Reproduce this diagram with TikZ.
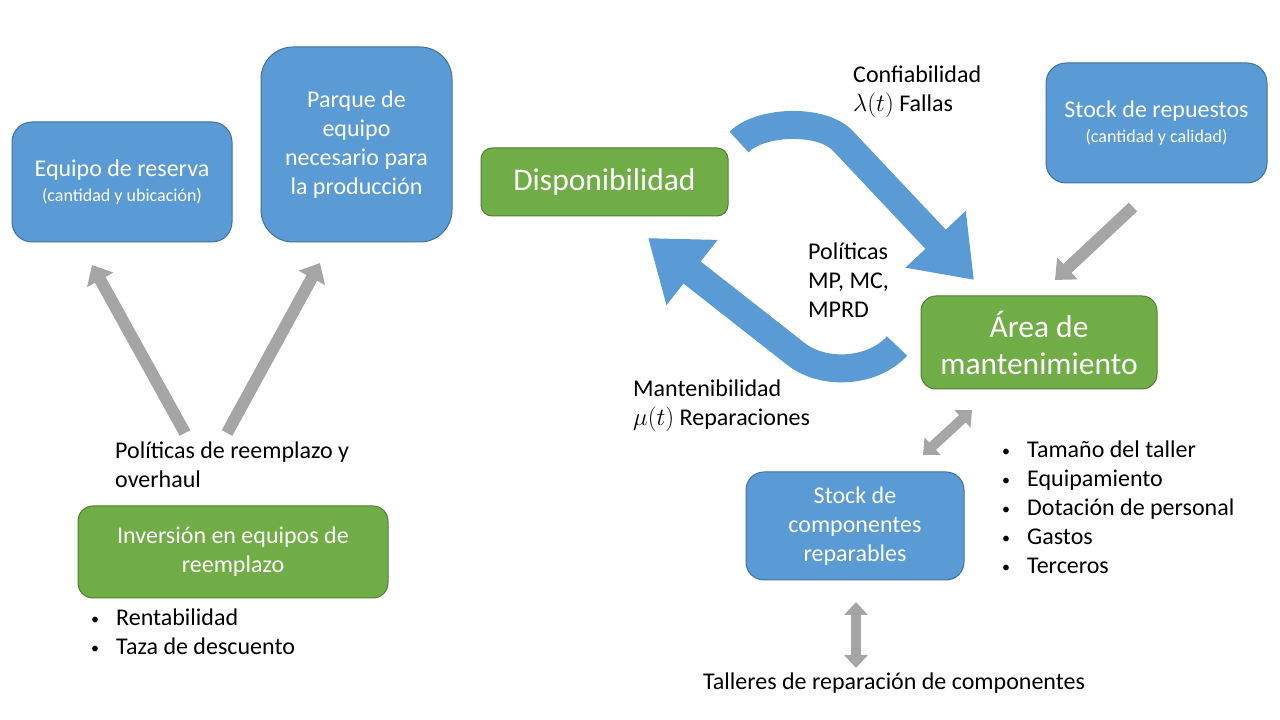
\documentclass[tikz,border=0pt]{standalone}
\usepackage{fontspec}
\setmainfont{Carlito}
\usetikzlibrary{arrows.meta}

\definecolor{boxblue}{HTML}{5B9BD5}
\definecolor{boxblueline}{HTML}{41719C}
\definecolor{boxgreen}{HTML}{70AD47}
\definecolor{boxgreenline}{HTML}{507E32}
\definecolor{arrowgray}{HTML}{A5A5A5}

\newcommand{\bigtext}{\fontsize{24}{29}\selectfont}
\newcommand{\smalltext}{\fontsize{18}{22}\selectfont}
\newcommand{\bull}{\makebox[25pt][l]{\raisebox{1pt}{\fontsize{16}{16}\selectfont •}}}

\begin{document}
\begin{tikzpicture}[x=1pt, y=1pt,
	box/.style = {draw, line width=1pt, text=white, align=center, inner sep=0pt, font=\bigtext},
	blue box/.style = {box, fill=boxblue, draw=boxblueline},
	green box/.style = {box, fill=boxgreen, draw=boxgreenline},
	note/.style = {align=left, inner sep=0pt, anchor=west, font=\bigtext},
	gray arrow/.style = {line width=12pt, arrowgray, -{Triangle[length=17pt, width=29pt]}},
	gray double/.style = {line width=10pt, arrowgray, {Triangle[length=13pt, width=23pt]}-{Triangle[length=13pt, width=23pt]}},
	flow arrow/.style = {line width=28pt, boxblue, -{Triangle[length=56pt, width=79pt]}},
]
	\useasboundingbox (0,0) rectangle (1280,720);

	%% The boxes
	\node [blue box, minimum width=220pt, minimum height=120pt, rounded corners=20pt] (reserva) at (122,538)
		{Equipo de reserva\\[-4pt]{\smalltext (cantidad y ubicación)}};
	\node [blue box, minimum width=191pt, minimum height=195pt, rounded corners=32pt] (parque) at (356.5,575.5)
		{Parque de\\equipo\\necesario para\\la producción};
	\node [green box, minimum width=247pt, minimum height=68pt, rounded corners=11pt, font=\fontsize{31.5}{37}\selectfont] (dispon) at (604.5,538)
		{Disponibilidad};
	\node [blue box, minimum width=221pt, minimum height=120pt, rounded corners=20pt] (repuestos) at (1156.5,597)
		{Stock de repuestos\\[-4pt]{\smalltext (cantidad y calidad)}};
	\node [green box, minimum width=236pt, minimum height=93pt, rounded corners=15pt, font=\fontsize{31.5}{37}\selectfont] (area) at (1039,377.5)
		{Área de\\mantenimiento};
	\node [blue box, minimum width=218pt, minimum height=108pt, rounded corners=18pt] (componentes) at (855,194)
		{Stock de\\componentes\\reparables};
	\node [green box, minimum width=310pt, minimum height=92pt, rounded corners=15pt] (inversion) at (233,168)
		{Inversión en equipos de\\reemplazo};

	%% The free texts
	\node [note] (confiab) at (853,628.5) {Confiabilidad\\$\lambda(t)$ Fallas};
	\node [note] (politicas) at (808,440) {Políticas\\MP, MC,\\MPRD};
	\node [note] (mantenib) at (633,314.5) {Mantenibilidad\\$\mu(t)$ Reparaciones};
	\node [note] (reemplazo) at (115,255.5) {Políticas de reemplazo y\\overhaul};
	\node [note] (finanzas) at (91,88.5) {\bull Rentabilidad\\\bull Taza de descuento};
	\node [note] (taller) at (1002,212.5)
		{\bull Tamaño del taller\\\bull Equipamiento\\\bull Dotación de personal\\\bull Gastos\\\bull Terceros};
	\node [font=\bigtext, inner sep=0pt] (talleres) at (894,37) {Talleres de reparación de componentes};

	%% End points of the arrows
	\coordinate (reserva in) at (92,455);
	\coordinate (parque in) at (320,457);
	\coordinate (reemplazo left) at (185,287);
	\coordinate (reemplazo right) at (227,287);
	\coordinate (repuestos out) at (1133,513);
	\coordinate (area top) at (1055,440);
	\coordinate (area link) at (972,310);
	\coordinate (componentes top) at (923,265);
	\coordinate (componentes bottom) at (856,118);
	\coordinate (talleres top) at (856,52);
	\coordinate (dispon out) at (739,578);
	\coordinate (fallas bend) at (843,579);
	\coordinate (area in) at (974,440);
	\coordinate (area out) at (897,374);
	\coordinate (repar bend) at (796,366);
	\coordinate (dispon in) at (648,482);

	%% The gray arrows
	\draw [gray arrow] (reemplazo left) -- (reserva in);
	\draw [gray arrow] (reemplazo right) -- (parque in);
	\draw [gray arrow] (repuestos out) -- (area top);
	\draw [gray double] (componentes top) -- (area link);
	\draw [gray double] (componentes bottom) -- (talleres top);

	%% The blue loop
	\draw [flow arrow] (dispon out) to[out=45, in=132.6, looseness=0.75] (fallas bend) -- (area in);
	\draw [flow arrow] (area out) to[out=228, in=-38, looseness=0.9] (repar bend) -- (dispon in);

\end{tikzpicture}
\end{document}
